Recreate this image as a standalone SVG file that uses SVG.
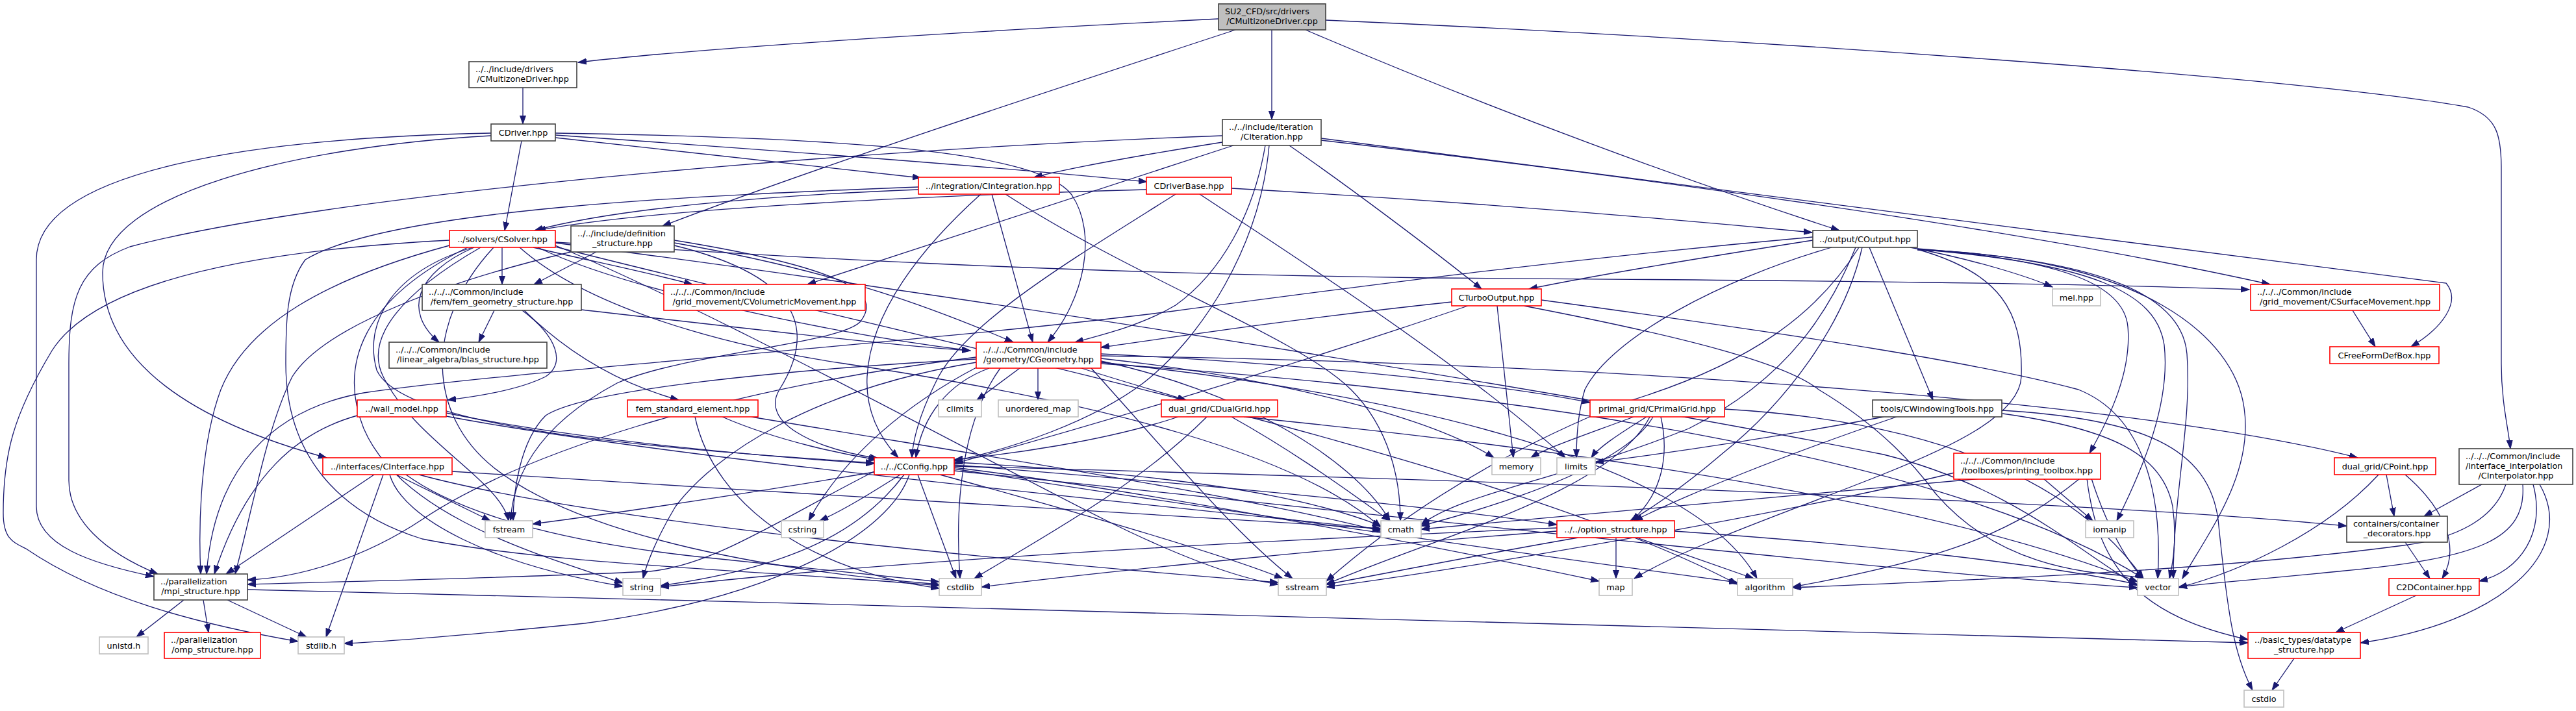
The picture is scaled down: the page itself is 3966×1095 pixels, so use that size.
<svg xmlns="http://www.w3.org/2000/svg" width="3966" height="1095" viewBox="0 0 3966 1095">
<style>
rect{fill:#fff;stroke:#404040;stroke-width:1.6}
.r rect{stroke:#ff0000}
.g rect{stroke:#bfbfbf}
.root rect{fill:#bfbfbf}
text{font-family:"DejaVu Sans","Liberation Sans",sans-serif;font-size:12.8px;fill:#000}
.c{text-anchor:middle}
#edges path{fill:none;stroke:#191970;stroke-width:1.3;marker-end:url(#a)}
</style>
<defs>
<marker id="a" markerUnits="userSpaceOnUse" markerWidth="14" markerHeight="10" refX="13" refY="5" orient="auto" viewBox="0 0 14 10"><path d="M0,0.5 L13,5 L0,9.5 z" fill="#191970" stroke="#191970" stroke-width="1"/></marker>
</defs>
<rect x="0" y="0" width="3966" height="1095" style="fill:#fff;stroke:none"/>
<g id="edges">
<path d="M1876,29 C1500,48 1100,72 890,96"/>
<path d="M1902,46 C1600,145 1250,260 1020,348"/>
<path d="M1958,46 L1958,184"/>
<path d="M2010,46 C2300,170 2600,280 2832,355"/>
<path d="M2041,31 C2700,60 3550,120 3800,165 C3845,180 3851,210 3851,260 L3851,560 C3851,620 3862,660 3865,691"/>
<path d="M805,135 L805,191"/>
<path d="M803,217 L777,355"/>
<path d="M756,205 C400,212 56,260 56,400 L56,780 C56,840 140,868 237,888"/>
<path d="M756,209 C450,226 158,300 158,420 C158,560 300,650 503,705"/>
<path d="M855,212 C1100,238 1300,260 1418,274"/>
<path d="M855,208 C1200,232 1550,258 1766,280"/>
<path d="M855,205 C1300,212 1600,232 1650,300 C1690,360 1670,460 1613,527"/>
<path d="M1882,209 C1300,230 500,300 200,380 C120,410 106,460 106,560 L106,740 C106,800 160,850 243,884"/>
<path d="M1882,219 C1750,240 1650,258 1592,273"/>
<path d="M1899,224 L1243,438"/>
<path d="M1948,224 C1930,330 1880,420 1810,470 C1760,500 1700,515 1655,527"/>
<path d="M1954,224 C1940,380 1850,520 1760,590 C1680,650 1560,690 1469,710"/>
<path d="M1985,224 C2080,290 2200,380 2281,445"/>
<path d="M2034,213 L3766,436 C3790,465 3760,505 3712,534"/>
<path d="M2034,216 C2500,270 3100,350 3495,438"/>
<path d="M1414,292 C1200,300 950,320 823,355"/>
<path d="M1765,292 C1400,302 1000,322 827,355"/>
<path d="M1414,288 C1100,300 600,320 470,400 C440,440 440,500 440,560 C440,700 520,790 650,830 C850,870 1200,880 1446,902"/>
<path d="M1527,299 L1590,527"/>
<path d="M1510,299 C1420,380 1340,480 1335,580 C1332,640 1360,680 1383,705"/>
<path d="M1548,299 C1750,430 2000,520 2080,600 C2140,660 2156,740 2156,802"/>
<path d="M1810,299 C1650,400 1480,500 1440,590 C1415,640 1405,680 1404,705"/>
<path d="M1847,299 C2000,400 2250,560 2410,705"/>
<path d="M1896,290 C2250,310 2550,335 2790,358"/>
<path d="M773,381 L773,438"/>
<path d="M730,381 C640,420 620,480 676,527"/>
<path d="M692,370 C400,385 150,430 80,540 C20,640 5,700 5,790 C5,830 20,835 40,845 C150,920 300,960 459,988"/>
<path d="M692,378 C500,430 380,500 340,600 C310,680 305,800 309,884"/>
<path d="M828,381 C950,440 1250,510 1494,540"/>
<path d="M728,381 C600,420 560,500 580,570 C620,660 1000,690 1346,713"/>
<path d="M821,381 C900,400 1000,420 1066,438"/>
<path d="M855,373 C1200,395 1600,420 2200,428 C2800,432 3200,436 3463,446"/>
<path d="M740,381 C620,450 560,520 590,580 C640,680 770,740 783,802"/>
<path d="M720,381 C560,460 520,560 560,660 C620,800 850,860 959,898"/>
<path d="M760,381 C650,500 660,640 760,720 C900,830 1200,880 1446,900"/>
<path d="M855,378 C1100,480 1500,700 1700,800 C1800,850 1900,890 1968,900"/>
<path d="M800,381 C900,470 1100,530 1300,560 C1700,620 2000,700 2126,812"/>
<path d="M855,374 C1600,470 2500,620 2900,700 C3100,750 3200,850 3291,902"/>
<path d="M855,380 C1400,520 2300,700 2675,900"/>
<path d="M2791,370 C2600,400 2450,425 2354,445"/>
<path d="M2791,365 C2400,400 2100,440 1800,480 C1400,530 800,570 560,605 C420,630 330,720 318,884"/>
<path d="M2820,381 C2650,430 2480,520 2440,600 C2428,640 2427,680 2427,705"/>
<path d="M2857,381 C2820,470 2760,580 2600,660 C2400,740 2250,760 2188,808"/>
<path d="M2867,381 C2840,500 2750,620 2650,700 C2580,760 2530,790 2510,802"/>
<path d="M2878,381 L2976,616"/>
<path d="M2952,384 C3080,420 3115,480 3112,580 C3110,640 3000,690 2900,730 C2750,790 2600,840 2516,891"/>
<path d="M2941,381 C3040,400 3120,425 3160,442"/>
<path d="M2952,383 C3180,400 3270,440 3276,503 C3282,570 3250,640 3217,698"/>
<path d="M2952,384 C3220,405 3320,450 3332,531 C3342,620 3300,720 3259,802"/>
<path d="M2952,384 C3250,400 3360,460 3367,545 C3375,650 3346,760 3346,891"/>
<path d="M2952,385 C3300,395 3440,520 3455,628 C3470,730 3400,820 3360,891"/>
<path d="M2862,381 C2800,480 2700,560 2500,620 C2300,700 2150,800 2042,895"/>
<path d="M2235,465 C2000,490 1800,520 1695,535"/>
<path d="M2260,471 C2000,560 1700,650 1469,714"/>
<path d="M2305,471 L2330,705"/>
<path d="M2346,471 C2600,520 2750,560 2800,600 C2900,660 2950,720 2980,760 C3100,900 3280,880 3300,891"/>
<path d="M2373,462 C2800,520 3050,560 3200,600 C3300,640 3330,760 3322,891"/>
<path d="M761,478 L737,527"/>
<path d="M804,478 C860,520 870,560 840,580 C800,600 740,610 689,616"/>
<path d="M807,478 C870,540 950,590 1045,616"/>
<path d="M895,477 C1100,500 1350,530 1494,540"/>
<path d="M1570,567 L1504,616"/>
<path d="M1598,567 L1598,616"/>
<path d="M1665,567 C1720,585 1790,605 1826,616"/>
<path d="M1523,567 C1460,590 1420,640 1410,705"/>
<path d="M1505,565 C1400,620 1300,700 1245,802"/>
<path d="M1695,545 C2000,560 2300,590 2448,620"/>
<path d="M1695,548 C2500,560 3300,620 3630,705"/>
<path d="M1695,552 C1950,580 2200,640 2300,705"/>
<path d="M1695,556 C1900,600 2080,700 2140,802"/>
<path d="M1695,558 C2100,600 2600,700 2705,891"/>
<path d="M1695,560 C2300,600 3000,700 3300,891"/>
<path d="M1503,550 C1100,600 800,700 650,800 C560,860 460,890 381,893"/>
<path d="M1503,553 C1200,570 900,600 840,640 C800,680 790,760 790,802"/>
<path d="M1503,558 C1250,600 1100,700 1040,780 C1010,830 995,870 990,891"/>
<path d="M1680,567 C1800,700 1900,820 1990,891"/>
<path d="M1540,567 C1480,650 1470,780 1478,891"/>
<path d="M1346,726 C1200,800 1100,870 1000,880 C800,890 500,896 381,900"/>
<path d="M1346,727 C1150,760 950,790 820,807"/>
<path d="M1386,731 C1340,760 1300,785 1262,802"/>
<path d="M1392,731 C1340,800 1250,870 1017,902"/>
<path d="M1400,731 C1370,820 1200,920 900,960 C700,980 600,988 530,991"/>
<path d="M1413,731 L1472,891"/>
<path d="M1447,731 C1700,800 1900,860 1975,891"/>
<path d="M1469,712 C1800,730 2000,760 2126,810"/>
<path d="M1469,716 C1900,750 2200,780 2397,808"/>
<path d="M1469,720 C1800,760 2300,860 2462,895"/>
<path d="M1469,722 C1900,790 2400,860 2675,897"/>
<path d="M1469,725 C2200,800 2900,880 3291,905"/>
<path d="M1469,718 C2300,740 3200,770 3613,810"/>
<path d="M550,640 C460,665 380,730 330,884"/>
<path d="M687,636 C900,680 1200,705 1346,714"/>
<path d="M687,641 C1000,700 1600,760 2126,815"/>
<path d="M1070,642 C1100,780 1250,880 1446,906"/>
<path d="M1112,642 C1200,680 1300,700 1350,708"/>
<path d="M1157,642 C1500,700 1900,760 2126,818"/>
<path d="M1814,642 C1700,680 1550,700 1469,708"/>
<path d="M1858,642 C1750,750 1600,830 1500,891"/>
<path d="M1896,642 C2000,700 2080,760 2140,802"/>
<path d="M1915,642 C2500,700 3000,780 3291,896"/>
<path d="M2515,642 C2440,670 2380,690 2357,705"/>
<path d="M2535,642 C2490,670 2460,690 2450,705"/>
<path d="M2557,642 C2570,700 2560,760 2512,802"/>
<path d="M2545,642 C2500,720 2300,780 2188,810"/>
<path d="M2655,630 C3000,650 3200,750 3300,891"/>
<path d="M2540,642 C2480,760 2200,830 2042,900"/>
<path d="M2900,642 C2700,680 2550,700 2456,712"/>
<path d="M2920,642 C2750,700 2600,760 2516,802"/>
<path d="M3083,632 C3300,645 3400,690 3415,800 C3430,950 3440,1010 3468,1063"/>
<path d="M3083,637 C3250,660 3330,700 3345,780 C3352,830 3345,870 3340,891"/>
<path d="M576,731 L348,884"/>
<path d="M590,731 L502,981"/>
<path d="M600,731 C620,800 760,870 959,903"/>
<path d="M610,731 L755,802"/>
<path d="M625,731 C720,800 900,840 1100,860 C1250,875 1380,890 1446,896"/>
<path d="M645,731 C900,800 1500,860 1968,897"/>
<path d="M696,726 C1200,760 1800,790 2126,814"/>
<path d="M2397,813 C2000,830 1400,860 1017,904"/>
<path d="M2397,818 C2100,840 1700,880 1511,904"/>
<path d="M2430,828 C2300,850 2150,880 2042,900"/>
<path d="M2488,828 L2488,891"/>
<path d="M2520,828 L2700,891"/>
<path d="M2578,818 C2900,840 3150,870 3291,900"/>
<path d="M3009,728 C2800,780 2300,870 2042,904"/>
<path d="M3202,737 C3100,820 3000,860 2760,904"/>
<path d="M3213,737 C3230,880 3300,950 3461,985"/>
<path d="M3220,737 C3240,800 3270,860 3300,891"/>
<path d="M3146,737 L3222,802"/>
<path d="M3050,737 C2700,770 2400,795 2188,815"/>
<path d="M3662,731 C3580,820 3450,880 3354,905"/>
<path d="M3674,731 L3686,795"/>
<path d="M3703,731 C3760,780 3790,840 3760,891"/>
<path d="M3821,746 L3732,795"/>
<path d="M3858,746 C3840,800 3780,830 3700,840 C3400,880 3000,895 2760,905"/>
<path d="M3884,746 C3890,830 3820,860 3600,880 C3450,895 3380,900 3354,904"/>
<path d="M3900,746 C3920,820 3880,880 3817,895"/>
<path d="M3910,746 C3970,850 3850,960 3634,990"/>
<path d="M3703,835 L3741,891"/>
<path d="M3720,917 L3596,974"/>
<path d="M3532,1014 L3498,1063"/>
<path d="M283,924 L210,981"/>
<path d="M313,924 L321,974"/>
<path d="M350,924 L472,981"/>
<path d="M381,908 C1500,935 2800,970 3461,990"/>
<path d="M918,388 L822,438"/>
<path d="M1038,374 C1300,420 1450,480 1560,527"/>
<path d="M1038,370 C1340,419 1352,461 1324,496 C1290,530 1050,545 950,590 C820,660 790,740 786,802"/>
<path d="M1038,378 C1250,430 1250,520 1200,600 C1170,650 1250,690 1352,706"/>
<path d="M879,388 C700,430 500,500 450,580 C410,660 390,780 362,884"/>
<path d="M3622,478 L3657,534"/>
</g>
<g id="n_root" class="root"><rect x="1876" y="6" width="165" height="40"/><text x="1886" y="22">SU2_CFD/src/drivers</text><text class="c" x="1958.5" y="37">/CMultizoneDriver.cpp</text></g>
<g id="n_cmd"><rect x="722" y="95" width="166" height="40"/><text x="732" y="111">../../include/drivers</text><text class="c" x="805" y="126">/CMultizoneDriver.hpp</text></g>
<g id="n_cdrv"><rect x="756" y="191" width="99" height="26"/><text class="c" x="805.5" y="208.5">CDriver.hpp</text></g>
<g id="n_cit"><rect x="1882" y="184" width="152" height="40"/><text x="1892" y="200">../../include/iteration</text><text class="c" x="1958" y="215">/CIteration.hpp</text></g>
<g id="n_cintg" class="r"><rect x="1414" y="273" width="217" height="26"/><text class="c" x="1522.5" y="290.5">../integration/CIntegration.hpp</text></g>
<g id="n_cdb" class="r"><rect x="1765" y="273" width="131" height="26"/><text class="c" x="1830.5" y="290.5">CDriverBase.hpp</text></g>
<g id="n_csol" class="r"><rect x="692" y="355" width="163" height="26"/><text class="c" x="773.5" y="372.5">../solvers/CSolver.hpp</text></g>
<g id="n_def"><rect x="879" y="348" width="159" height="40"/><text x="889" y="364">../../include/definition</text><text class="c" x="958.5" y="379">_structure.hpp</text></g>
<g id="n_cout"><rect x="2791" y="355" width="161" height="26"/><text class="c" x="2871.5" y="372.5">../output/COutput.hpp</text></g>
<g id="n_cvol" class="r"><rect x="1022" y="438" width="310" height="40"/><text x="1032" y="454">../../../Common/include</text><text class="c" x="1177" y="469">/grid_movement/CVolumetricMovement.hpp</text></g>
<g id="n_femg"><rect x="650" y="438" width="245" height="40"/><text x="660" y="454">../../../Common/include</text><text class="c" x="772.5" y="469">/fem/fem_geometry_structure.hpp</text></g>
<g id="n_cturbo" class="r"><rect x="2235" y="445" width="138" height="26"/><text class="c" x="2304" y="462.5">CTurboOutput.hpp</text></g>
<g id="n_mel" class="g"><rect x="3160" y="445" width="74" height="26"/><text class="c" x="3197" y="462.5">mel.hpp</text></g>
<g id="n_csurf" class="r"><rect x="3465" y="438" width="291" height="40"/><text x="3475" y="454">../../../Common/include</text><text class="c" x="3610.5" y="469">/grid_movement/CSurfaceMovement.hpp</text></g>
<g id="n_blas"><rect x="599" y="527" width="243" height="40"/><text x="609" y="543">../../../Common/include</text><text class="c" x="720.5" y="558">/linear_algebra/blas_structure.hpp</text></g>
<g id="n_cgeom" class="r"><rect x="1503" y="527" width="192" height="40"/><text x="1513" y="543">../../../Common/include</text><text class="c" x="1599" y="558">/geometry/CGeometry.hpp</text></g>
<g id="n_cffd" class="r"><rect x="3587" y="534" width="168" height="26"/><text class="c" x="3671" y="551.5">CFreeFormDefBox.hpp</text></g>
<g id="n_wall" class="r"><rect x="550" y="616" width="137" height="26"/><text class="c" x="618.5" y="633.5">../wall_model.hpp</text></g>
<g id="n_femstd" class="r"><rect x="966" y="616" width="201" height="26"/><text class="c" x="1066.5" y="633.5">fem_standard_element.hpp</text></g>
<g id="n_climits" class="g"><rect x="1445" y="616" width="66" height="26"/><text class="c" x="1478" y="633.5">climits</text></g>
<g id="n_umap" class="g"><rect x="1537" y="616" width="123" height="26"/><text class="c" x="1598.5" y="633.5">unordered_map</text></g>
<g id="n_cdual" class="r"><rect x="1788" y="616" width="179" height="26"/><text class="c" x="1877.5" y="633.5">dual_grid/CDualGrid.hpp</text></g>
<g id="n_cprimal" class="r"><rect x="2448" y="616" width="207" height="26"/><text class="c" x="2551.5" y="633.5">primal_grid/CPrimalGrid.hpp</text></g>
<g id="n_cwin"><rect x="2883" y="616" width="199" height="26"/><text class="c" x="2982.5" y="633.5">tools/CWindowingTools.hpp</text></g>
<g id="n_cint" class="r"><rect x="497" y="705" width="199" height="26"/><text class="c" x="596.5" y="722.5">../interfaces/CInterface.hpp</text></g>
<g id="n_cconf" class="r"><rect x="1346" y="705" width="123" height="26"/><text class="c" x="1407.5" y="722.5">../../CConfig.hpp</text></g>
<g id="n_memory" class="g"><rect x="2297" y="705" width="75" height="26"/><text class="c" x="2334.5" y="722.5">memory</text></g>
<g id="n_limits" class="g"><rect x="2397" y="705" width="59" height="26"/><text class="c" x="2426.5" y="722.5">limits</text></g>
<g id="n_cpoint" class="r"><rect x="3594" y="705" width="156" height="26"/><text class="c" x="3672" y="722.5">dual_grid/CPoint.hpp</text></g>
<g id="n_ptool" class="r"><rect x="3008" y="698" width="226" height="40"/><text x="3018" y="714">../../../Common/include</text><text class="c" x="3121" y="729">/toolboxes/printing_toolbox.hpp</text></g>
<g id="n_cintp"><rect x="3786" y="691" width="175" height="55"/><text x="3796" y="707">../../../Common/include</text><text x="3796" y="722">/interface_interpolation</text><text class="c" x="3873.5" y="737">/CInterpolator.hpp</text></g>
<g id="n_fstream" class="g"><rect x="747" y="802" width="73" height="26"/><text class="c" x="783.5" y="819.5">fstream</text></g>
<g id="n_cstring" class="g"><rect x="1203" y="802" width="65" height="26"/><text class="c" x="1235.5" y="819.5">cstring</text></g>
<g id="n_cmath" class="g"><rect x="2126" y="802" width="62" height="26"/><text class="c" x="2157" y="819.5">cmath</text></g>
<g id="n_optstr" class="r"><rect x="2397" y="802" width="181" height="26"/><text class="c" x="2487.5" y="819.5">../../option_structure.hpp</text></g>
<g id="n_iomanip" class="g"><rect x="3211" y="802" width="74" height="26"/><text class="c" x="3248" y="819.5">iomanip</text></g>
<g id="n_cdec"><rect x="3613" y="795" width="155" height="40"/><text x="3623" y="811">containers/container</text><text class="c" x="3690.5" y="826">_decorators.hpp</text></g>
<g id="n_mpi"><rect x="237" y="884" width="144" height="40"/><text x="247" y="900">../parallelization</text><text class="c" x="309" y="915">/mpi_structure.hpp</text></g>
<g id="n_string" class="g"><rect x="959" y="891" width="58" height="26"/><text class="c" x="988" y="908.5">string</text></g>
<g id="n_cstdlib" class="g"><rect x="1446" y="891" width="65" height="26"/><text class="c" x="1478.5" y="908.5">cstdlib</text></g>
<g id="n_sstream" class="g"><rect x="1968" y="891" width="74" height="26"/><text class="c" x="2005" y="908.5">sstream</text></g>
<g id="n_map" class="g"><rect x="2462" y="891" width="51" height="26"/><text class="c" x="2487.5" y="908.5">map</text></g>
<g id="n_algorithm" class="g"><rect x="2675" y="891" width="85" height="26"/><text class="c" x="2717.5" y="908.5">algorithm</text></g>
<g id="n_vector" class="g"><rect x="3291" y="891" width="63" height="26"/><text class="c" x="3322.5" y="908.5">vector</text></g>
<g id="n_c2d" class="r"><rect x="3678" y="891" width="139" height="26"/><text class="c" x="3747.5" y="908.5">C2DContainer.hpp</text></g>
<g id="n_unistd" class="g"><rect x="153" y="981" width="75" height="26"/><text class="c" x="190.5" y="998.5">unistd.h</text></g>
<g id="n_omp" class="r"><rect x="253" y="974" width="148" height="40"/><text x="263" y="990">../parallelization</text><text class="c" x="327" y="1005">/omp_structure.hpp</text></g>
<g id="n_stdlib" class="g"><rect x="459" y="981" width="71" height="26"/><text class="c" x="494.5" y="998.5">stdlib.h</text></g>
<g id="n_dtype" class="r"><rect x="3461" y="974" width="173" height="40"/><text x="3471" y="990">../basic_types/datatype</text><text class="c" x="3547.5" y="1005">_structure.hpp</text></g>
<g id="n_cstdio" class="g"><rect x="3455" y="1063" width="61" height="26"/><text class="c" x="3485.5" y="1080.5">cstdio</text></g>
</svg>
